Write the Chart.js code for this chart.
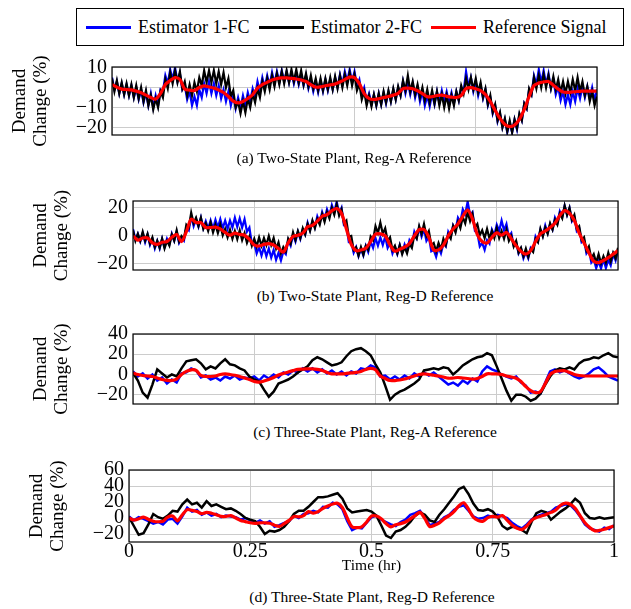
<!DOCTYPE html>
<html>
<head>
<meta charset="utf-8">
<script src="https://cdn.jsdelivr.net/npm/chart.js@4.4.1/dist/chart.umd.min.js"></script>
<style>
  body { margin: 0; background: #fff; }
  #page { position: relative; width: 631px; height: 609px; font-family: "Liberation Serif", serif; color: #000; }
  #legend { position: absolute; left: 76px; top: 8px; width: 548px; height: 38px; border: 1px solid #000; box-sizing: border-box; display: flex; align-items: center; padding-left: 9px; font-size: 18px; }
  .item { display: flex; align-items: center; margin-right: 9px; }
  .swatch { display: inline-block; width: 45px; height: 3px; margin-right: 7px; }
  canvas { position: absolute; left: 0; }
  .caption { position: absolute; font-size: 15.5px; white-space: nowrap; transform: translate(-50%, -50%); }
</style>
</head>
<body>
<div id="page">
  <div id="legend">
    <span class="item"><span class="swatch" style="background:#0000ff"></span>Estimator 1-FC</span>
    <span class="item"><span class="swatch" style="background:#000000"></span>Estimator 2-FC</span>
    <span class="item"><span class="swatch" style="background:#ff0000"></span>Reference Signal</span>
  </div>
  <canvas id="chartA" width="631" height="98" style="top:52px"></canvas>
  <div class="caption" style="left:354px; top:158px">(a) Two-State Plant, Reg-A Reference</div>
  <canvas id="chartB" width="631" height="99" style="top:186px"></canvas>
  <div class="caption" style="left:375px; top:296px">(b) Two-State Plant, Reg-D Reference</div>
  <canvas id="chartC" width="631" height="100" style="top:319px"></canvas>
  <div class="caption" style="left:375px; top:432px">(c) Three-State Plant, Reg-A Reference</div>
  <canvas id="chartD" width="631" height="121" style="top:455px"></canvas>
  <div class="caption" style="left:372px; top:597px">(d) Three-State Plant, Reg-D Reference</div>
</div>
<script>
// sample times (hr): every 0.01 hr, and every 0.005 hr for the noisy two-state estimates
const time = Array.from({ length: 101 }, (_, i) => i / 100);
const timeFine = Array.from({ length: 201 }, (_, i) => i / 200);
const xTicks = [0, 0.25, 0.5, 0.75, 1];

// (a) Two-State Plant, Reg-A
const refA = [1.5,0.2,-0.8,-1.0,-1.2,-1.8,-2.6,-3.8,-5.0,-5.8, -3.0,1.5,3.5,5.0,4.0,-0.8,-1.3,-1.5,0.0,0.8,
  0.3,-0.3,-1.2,-2.5,-4.5,-6.8,-7.7,-7.0,-5.5,-3.6, -0.3,1.5,2.6,3.8,4.5,4.8,4.8,4.6,4.3,3.8,
  3.0,1.4,0.2,0.3,0.9,1.3,1.8,2.8,4.0,5.2, 5.0,2.0,-3.0,-5.5,-6.0,-5.6,-5.0,-4.5,-3.8,-2.9,
  -0.5,-0.3,-0.6,-1.6,-3.0,-4.6,-4.6,-4.0,-3.8,-4.4, -4.8,-5.0,-4.0,-0.5,0.0,-0.6,-1.5,-3.5,-7.0,-11.5,
  -15.5,-18.5,-19.6,-18.8,-16.0,-11.0,-4.5,1.0,2.3,2.8, 3.0,1.2,-0.8,-2.2,-2.4,-2.2,-2.0,-1.8,-1.8,-1.8,-1.8];
const est1A = [5,-1, 3,-3, 2,-3.5, 1.5,-4, 1,-5, 0,-6, -1,-7.5, -2.5,-9, -3,-10, -4,-9,
  -1,-2, 6,2, 9,4, 10,3, 7,-1, 1,-6, -2,-9, -4.5,-9, -1,-5, 2,-3,
  3,-3, 2,-4, 1,-5.5, -1,-7, -2,-9, -4,-10.5, -5,-10, -4,-9, -2.5,-7, -0.5,-4.5,
  3,-2, 5,0, 6,1, 7.5,2, 8,2.5, 8.5,3, 8,2.5, 7.5,2, 7,1.5, 6.5,1,
  6,-0.5, 4,-2, 3,-2.5, 3.5,-2, 4,-1.5, 4,-1, 5,0, 6.5,1.5, 8,3, 9,3,
  8,1, 4,-3.5, 0,-7, -3,-8.5, -3.5,-9, -3,-8.5, -2.5,-8, -2,-7, -1,-6, 0,-4,
  3,-3, 2.5,-3.5, 2,-5, 0,-7, -2,-9, -4,-9.5, -3,-8.5, -2,-7.5, -1.5,-7, -2,-7.5,
  -2.5,-8, -2,-6.5, 0,-2, 8,0.5, 5,-2, 3,-4, 1,-5.5, -1,-9, -5,-13, -9,-17,
  -13,-20, -16,-22.5, -17.5,-22.5, -16,-21, -13.5,-16.5, -8,-10.5, -1,-3.5, 6,1.5, 9,2.5, 8.5,1.5,
  7,-0.5, 4,-3.5, 0.5,-6.5, -2,-8.5, -3.5,-8.5, -2,-7, -0.5,-5.5, 0.5,-5, 0.5,-5.5, 0,-6.5,
  -1];
const est2A = [4.5,-2, 3.5,-3, 2.5,-3.5, 2,-4, 1.5,-5, 1,-5.5, 0,-7, -1.5,-9, -4,-11, -5.5,-10,
  -2,-5, 4,-0.5, 7.5,2, 8.5,2.5, 8,-0.5, 3,-4, 1.5,-4, 2.5,-2, 5,1, 8.5,2.5,
  8.5,2.5, 8.5,2, 8,1.5, 7.5,0, 4.5,-4.5, -1.5,-10, -7,-13, -7,-12.5, -5.5,-10, -3,-7.5,
  -0.5,-5, 3,-2, 4.5,-1, 6,0.5, 7,1.5, 8,2, 8.5,2.5, 9,3, 9,2.5, 8.5,1.5,
  7,0.5, 6,-0.5, 4.5,-1.5, 4.5,-1.5, 4.5,-1, 5,-1, 5.5,-0.5, 6,0, 6.5,1, 7.5,1,
  6.5,-1.5, 2,-6, -2,-9, -4,-9.5, -3.5,-9, -3,-8.5, -2,-7.5, -1.5,-7, -0.5,-6, 0.5,-4,
  3.5,-1.5, 6,-2, 3,-3.5, 1.5,-5, 0,-6.5, -1,-7.5, -1.5,-8, -2,-9, -3.5,-10, -4,-10.5,
  -4,-9, -2,-6.5, 1,-3, 4.5,-1, 5,-1, 4.5,-2.5, 2.5,-5, -0.5,-8.5, -4,-12.5, -8.5,-16.5,
  -12.5,-20, -15.5,-22, -16.5,-22.5, -16,-20.5, -13,-16.5, -8,-10.5, -0.5,-3.5, 5,-0.5, 6,0, 6.5,0,
  6,-0.5, 5.5,-1, 4,-2.5, 3,-3, 3,-2.5, 4,-1.5, 5,-2, 3,-4, 0.5,-7, -2,-9,
  -4.5];
const yTicksA = [-20, -10, 0, 10];

// (b) Two-State Plant, Reg-D
const refB = [0,-3,-1.5,-1.5,-5,-6,-4.5,-4,-1,1, -4,3,12,9.5,9.5,6,6,6.3,5,2.5,
  0.5,2,1,0.5,-2.5,-6.5,-7.2,-6,-5.5,-6.5, -9,-11.5,-5,-0.5,0.5,2,6.5,7.5,10.5,14,
  15.2,18,19.5,16,5,-6,-10.5,-10,-8.8,-4, 1.2,1.5,0,-6.5,-10.9,-9.5,-8,-5.5,0,4.5,
  4.5,-1,-10,-10,-6.5,0,5,8.5,14,18.5, 12,1,-4,-5,-1,2.2,0.5,2.5,-2,-7,
  -11,-13,-10.5,-4,1.5,3.5,6,9,14.5,18, 16,11,2,-5,-12,-18,-19,-17.5,-15.5,-13,-10.5];
const est1B = [5,-2.5, 1.5,-4, 2,-4.5, 1,-6.5, -2,-9, -3.5,-9, -2,-8, -2,-6, 1.5,-3.5, 3,-5,
  -1.5,-3.5, 6,4, 14,7, 12,6.5, 13,5.5, 10.5,5, 11,5, 11.5,6, 12,5.5, 11,5,
  11,6, 13,6.5, 12.5,6, 12,3, 6,-5.5, -5,-12.5, -8,-14, -8,-14.5, -9,-15.5, -10,-17,
  -12,-17.5, -11,-13, -3,-7, 1,-4, 3,-2.3, 4.5,1, 9.5,4, 10.5,6, 14,9.5, 17,12,
  19,14.5, 22,17, 24.5,16, 20,7.5, 7,-4.5, -4.5,-12, -8,-14.5, -9,-14, -7,-11.5, -4,-8.5,
  -1.5,-7, -1,-6.5, -0.5,-8.5, -5,-12.5, -8,-13, -6.5,-12, -6,-10.5, -3,-6, 3,-1.5, 6,-0.5,
  5,-3.5, -0.5,-11, -10,-15, -8,-12.5, -5.5,-7.5, 3,-0.5, 7.5,4, 13,10, 19,15.5, 24.5,15,
  17,3.5, 2,-7.5, -5,-10, -3,-5.5, 4.5,0.5, 8,3.5, 11,4, 8.5,-0.5, 2,-7, -4.5,-12.5,
  -9,-16, -11.5,-16, -8.5,-10.5, -0.5,-4, 4.5,0, 7.5,2, 8.5,4.5, 13,9, 17.5,13.5, 21.5,15,
  20,10.5, 13.5,3.5, 5.5,-4.5, -3,-12.5, -10,-19, -16.5,-23, -18,-23.3, -16.5,-23, -17,-21, -13,-17.5,
  -10];
const est2B = [4,-3.5, 1.5,-3.5, 3,-3.5, 1.5,-5.5, -1,-8, -3.5,-8.5, -2,-9, -3.5,-7, 1,-3.5, 4,-4,
  0,-2, 8,6, 16.5,9, 13,7, 13,5, 9,3.5, 9.5,2.5, 8,2, 8,0.5, 5,-1,
  4.5,-2, 3.5,-2.3, 4,-3, 2,-5, -0.5,-7, -2,-7.5, -1,-7, -1.5,-6.5, 0,-6.5, -1.5,-9,
  -4.5,-12.5, -8,-11, -2,-5.5, 2.5,-3, 3.5,-1.5, 5.5,1, 8.5,3.5, 11,5.5, 12,8, 15.5,10,
  17,12.5, 20,15, 22.5,14.5, 19,9, 11,-0.5, 0,-10, -8,-14, -8,-13.5, -7,-10, -0.5,-3,
  7,2, 9.5,1.5, 5.5,-3.5, -1,-10, -7,-12.5, -6.5,-13, -8,-12.5, -5.5,-8.5, 0.5,-2, 7,1.5,
  8.5,0, 3.5,-6.5, -5,-11, -5,-9.5, -2,-6.5, 1,-2, 7,2.5, 10,5.5, 13.5,9, 17,10.5,
  15.5,6, 8.5,0.5, 4,-1.5, 5,-1.8, 3.5,-1.5, 5.5,-1.5, 3.5,-2, 4.5,-3.5, 0,-7.5, -3.5,-12,
  -8.5,-14.5, -9,-15, -9.5,-11.5, -2,-4.5, 5,-0.5, 6,1.5, 9,4.5, 11.5,8, 16,12.5, 21.5,15,
  20,11.5, 15,5, 7,-3, -1,-10.5, -7.5,-16, -13,-19, -13,-19.5, -14.5,-19, -12,-18, -12,-16,
  -8.5];
const yTicksB = [-20, 0, 20];

// (c) Three-State Plant, Reg-A
const refC = [1.5,0,-1,-1.5,-2,-3.5,-5,-5.8,-6,-4.6, 0,3,4.6,4,-1,-2,-2,-1.5,0,0.5,
  0,-0.8,-2,-3.5,-5,-7,-7.5,-6.5,-5,-3, -0.5,1,2.5,3.8,5,5.3,5.5,5.5,5,4,
  2,0.6,0.6,0.6,1,1.5,2,3,5,6, 4.6,-1.5,-4,-6,-6,-5.5,-4.5,-3,-1.5,0,
  0.6,0,-0.8,-1.5,-2.5,-3.7,-3.5,-3,-3.5,-4, -4.6,-4,-2,0.6,0.6,0.6,0,-1.5,-2.5,-3.7,
  -7,-12,-16,-18,-17,-9,0,3,3.5,3.7, 2,0,-1,-1.5,-1.5,-1.5,-1.5,-1.5,-1.5,-1.5,-1.5];
const est1C = [3,-2,1,-4,0,-6,-3,-9,-5,-8, 1,2,6,4,-3,-1,-5,-3,-6,-2,
  -4,-1,-5,-3,-4,-2,-6,-1,-4,0, -3,2,0,4,2,6,3,6,2,5,
  1,4,0,3,-1,3,1,6,5,9, 7,-2,-1,-5,-2,-5,-1,-4,1,-2,
  2,-1,2,-2,-6,-10,-8,-11,-6,-9, -4,-7,3,8,5,3,0,-2,-4,-2,
  -8,-11,-18,-17,-19,-8,3,5,2,4, 1,-2,-4,-2,1,5,7,3,-2,-4,-6];
const est2C = [1.5,-6,-18,-23,-10,5,1,-3,0,-2, 6,13,14,15,11,5,8,6,11,15,
  10,9,6,4,-2,-5,-7,-15,-22,-17, -9,-7,-5,-2,2,5,8,14,17,15,
  12,9,10,12,18,23,25,26,23,19, 10,2,-11,-25,-20,-17,-15,-12,-9,-5,
  4,5,6,5,7,6,0,4,9,12, 15,17,18,21,19,8,-4,-16,-26,-20,
  -20,-22,-26,-24,-19,-10,-2,4,6,5, 7,5,11,14,15,17,16,19,21,18,17];
const yTicksC = [-20, 0, 20, 40];

// (d) Three-State Plant, Reg-D
const refD = [0,-2.5,-1,1,-1.5,-4,-4.7,-4,1.2,2.5, -3.5,4,10.5,9.5,8,5.5,7,6,4,2,
  2,3,0,-3,-4.5,-6,-6.7,-6,-6,-6.5, -9,-10.5,-7,-3,2,1.5,3,8,6,8,
  12,15,17.5,18.5,13,0,-11,-12,-11,-5, 2.4,2.4,-1,-7,-11,-8.5,-7,-5,-1,3,
  7,-0.8,-10.7,-9,-6,-1,3,8,15,19, 11,1,-3,-4,0.5,2,1,3,-3,-9,
  -12.8,-14.5,-10,-3,0.5,2.5,4.5,7,10,16, 18.5,17,12,3,-6,-12,-16,-15.5,-14,-12,-10];
const est1D = [2,-3,1,-1,-4,-7,-5,-8,-2,-1, -7,2,13,8,10,4,7,3,5,1,
  3,2,1,-2,0,-3,-6,-3,-7,-4, -11,-9,-6,-4,3,0,5,6,9,7,
  14,13,19,17,11,-4,-15,-12,-13,-6, 1,3,-2,-5,-8,-10,-5,-2,4,6,
  9,1,-9,-7,-5,1,4,10,14,16, 9,2,-1,0,3,1,4,2,0,-6,
  -10,-13,-8,-2,2,4,6,8,13,15, 17,16,10,2,-8,-13,-15,-17,-12,-14,-9];
const est2D = [1,-10,-21,-19,-8,5,1,-1,3,9, 8,17,23,17,19,13,21,15,17,14,
  11,12,9,5,0,-2,-4,-11,-20,-16, -17,-15,-11,-4,5,9,9,14,20,26,
  26,27,29,31,24,12,7,8,9,10, 8,3,-9,-22,-25,-17,-15,-11,-5,3,
  7,4,-3,-5,4,11,19,27,36,39, 30,18,10,9,11,8,1,-10,-14,-11,
  -12,-15,-19,-5,6,9,7,-2,3,8, 12,17,24,19,6,0,-1,1,-1,0,1];
const yTicksD = [-20, 0, 20, 40, 60];

const FONT = 'Liberation Serif';
const GRID = '#cccccc';
Chart.defaults.font.family = FONT;

// black frame round the plot area, like the pgfplots box
const frame = {
  id: 'frame',
  afterDraw(chart) {
    const { ctx, chartArea: a } = chart;
    ctx.save();
    ctx.strokeStyle = '#000';
    ctx.lineWidth = 1.2;
    ctx.strokeRect(a.left, a.top, a.right - a.left, a.bottom - a.top);
    ctx.restore();
  }
};

function pts(values) {
  const t = values.length === timeFine.length ? timeFine : time;
  return values.map((v, i) => ({ x: t[i], y: v }));
}

function minusSign(v) {
  return v < 0 ? '\u2212' + Math.abs(v) : String(v);
}

function makePanel(id, p) {
  const ctx = document.getElementById(id).getContext('2d');
  return new Chart(ctx, {
    type: 'line',
    data: {
      datasets: [
        { label: 'Reference Signal', data: pts(p.ref), borderColor: '#ff0000', borderWidth: 3.2, tension: 0.3, order: 1 },
        { label: 'Estimator 2-FC', data: pts(p.est2), borderColor: '#000000', borderWidth: p.noisyWidth, tension: 0, order: 2 },
        { label: 'Estimator 1-FC', data: pts(p.est1), borderColor: '#0000ff', borderWidth: p.noisyWidth, tension: 0, order: 3 }
      ]
    },
    options: {
      responsive: false,
      animation: false,
      devicePixelRatio: 1,
      parsing: false,
      elements: { point: { radius: 0 } },
      layout: { padding: p.pad },
      plugins: { legend: { display: false }, tooltip: { enabled: false } },
      scales: {
        x: {
          type: 'linear', min: 0, max: 1,
          afterBuildTicks: s => { s.ticks = xTicks.map(v => ({ value: v })); },
          afterFit: s => { s.height = p.xHeight; },
          border: { display: false },
          grid: { color: GRID, lineWidth: 1, drawTicks: false },
          ticks: {
            display: p.showX, padding: 0, color: '#000', autoSkip: false, maxRotation: 0,
            font: { family: FONT, size: 20, lineHeight: 1 },
            callback: v => String(v)
          },
          title: {
            display: p.showX, text: 'Time (hr)', color: '#000', padding: 0,
            font: { family: FONT, size: 15.5, lineHeight: '17px' }
          }
        },
        y: {
          min: p.yMin, max: p.yMax,
          afterBuildTicks: s => { s.ticks = p.yTicks.map(v => ({ value: v })); },
          afterFit: s => { s.width = 102; },
          border: { display: false },
          grid: { color: GRID, lineWidth: 1, drawTicks: false },
          ticks: {
            padding: 5, color: '#000', autoSkip: false,
            font: { family: FONT, size: 20, lineHeight: 1 },
            callback: minusSign
          },
          title: {
            display: true, text: ['Demand', 'Change (%)'], color: '#000', padding: 0,
            font: { family: FONT, size: 19, lineHeight: '21px' }
          }
        }
      }
    },
    plugins: [frame]
  });
}

makePanel('chartA', { ref: refA, est1: est1A, est2: est2A, yTicks: yTicksA, yMin: -23.8, yMax: 10.3, noisyWidth: 2.2,
  showX: false, xHeight: 0, pad: { left: 10, right: 34, top: 13, bottom: 12 } });
makePanel('chartB', { ref: refB, est1: est1B, est2: est2B, yTicks: yTicksB, yMin: -24.3, yMax: 24.9, noisyWidth: 2.2,
  showX: false, xHeight: 0, pad: { left: 31, right: 13, top: 12, bottom: 14 } });
makePanel('chartC', { ref: refC, est1: est1C, est2: est2C, yTicks: yTicksC, yMin: -29.2, yMax: 40, noisyWidth: 2.5,
  showX: false, xHeight: 0, pad: { left: 31, right: 13, top: 12, bottom: 12 } });
makePanel('chartD', { ref: refD, est1: est1D, est2: est2D, yTicks: yTicksD, yMin: -30, yMax: 60, noisyWidth: 2.5,
  showX: true, xHeight: 32, pad: { left: 27, right: 17, top: 12, bottom: 2 } });
</script>
</body>
</html>
